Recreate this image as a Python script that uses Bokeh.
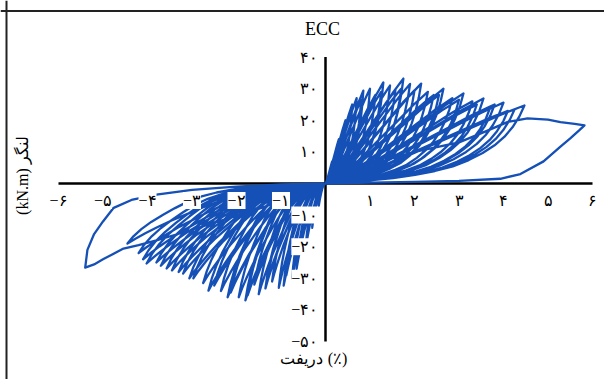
from bokeh.plotting import figure
from bokeh.models import Range1d, Label, LabelSet, ColumnDataSource, Span
from bokeh.core.properties import value
from bokeh.embed import file_html
from bokeh.resources import INLINE

# ---- tick data ----
X_TICKS = [-6, -5, -4, -3, -2, -1, 1, 2, 3, 4, 5, 6]
X_TICK_LABELS = ["−۶", "−۵", "−۴", "−۳", "−۲", "−۱", "۱", "۲", "۳", "۴", "۵", "۶"]
Y_TICKS = [40, 30, 20, 10, -10, -20, -30, -40, -50]
Y_TICK_LABELS = ["۴۰", "۳۰", "۲۰", "۱۰", "−۱۰", "−۲۰", "−۳۰", "−۴۰", "−۵۰"]

# ---- cycle peaks (drift %, moment kN.m) ----
POS_PEAK_DRIFT = [0.15, 0.3, 0.45, 0.6, 0.7, 0.85, 0.8, 1.0, 1.12, 1.3, 1.25, 1.45,
                  1.57, 1.75, 1.7, 1.9, 2.0, 2.15, 2.3, 2.43, 2.55, 2.65, 2.85, 3.0,
                  3.1, 3.3, 3.4, 3.55, 3.7, 3.8, 4.0, 4.1, 4.25, 4.47]
POS_PEAK_MOMENT = [7, 14, 20, 25, 27, 29.4, 26.5, 30, 28, 32, 29, 31,
                   29.5, 33.2, 30, 31.5, 29.5, 31.6, 29, 28, 28, 30, 27, 26.5,
                   28.5, 26, 25, 26.9, 24, 25, 25.6, 23, 23.5, 24.7]
NEG_PEAK_DRIFT = [-0.15, -0.3, -0.45, -0.65, -0.75, -0.94, -0.88, -1.05, -1.2, -1.35, -1.3, -1.5,
                  -1.6, -1.8, -1.75, -1.95, -2.13, -2.2, -2.35, -2.5, -2.75, -2.63, -2.97, -3.2,
                  -3.06, -3.3, -3.45, -3.57, -3.7, -3.8, -4.02, -4.1, -4.2, -4.45]
NEG_PEAK_MOMENT = [-7, -14, -21, -27, -30, -32.3, -29, -33, -31, -33.2, -30.5, -35,
                   -32, -37, -35.4, -36, -34.5, -36, -34, -32.3, -31.5, -33.9, -30, -28.5,
                   -30, -28, -27.5, -26.9, -26, -25, -25.3, -24, -22, -19]

# normalised leaf shapes of a half cycle (fraction of peak drift / peak moment)
POS_LOAD_U = [0.0, 0.08, 0.16, 0.24, 0.32, 0.4, 0.48, 0.56, 0.64, 0.72, 0.8, 0.87, 0.93, 0.97, 1.0]
POS_LOAD_V = [0.0, 0.04, 0.1, 0.17, 0.25, 0.34, 0.43, 0.52, 0.61, 0.7, 0.79, 0.87, 0.93, 0.97, 1.0]
POS_UNLOAD_U = [1.0, 0.975, 0.94, 0.9, 0.85, 0.79, 0.72, 0.64, 0.55, 0.45, 0.34, 0.22, 0.1, 0.0]
POS_UNLOAD_V = [1.0, 0.86, 0.72, 0.6, 0.49, 0.39, 0.3, 0.22, 0.16, 0.11, 0.07, 0.04, 0.015, 0.0]
NEG_LOAD_U = [0.0, 0.1, 0.2, 0.3, 0.38, 0.46, 0.54, 0.62, 0.7, 0.78, 0.85, 0.91, 0.96, 1.0]
NEG_LOAD_V = [0.0, 0.02, 0.05, 0.09, 0.14, 0.21, 0.3, 0.4, 0.51, 0.62, 0.73, 0.83, 0.92, 1.0]
NEG_UNLOAD_U = [1.0, 0.97, 0.93, 0.88, 0.82, 0.76, 0.7, 0.63, 0.55, 0.45, 0.33, 0.2, 0.08, 0.0]
NEG_UNLOAD_V = [1.0, 0.88, 0.76, 0.64, 0.52, 0.41, 0.31, 0.22, 0.15, 0.09, 0.05, 0.025, 0.01, 0.0]

# last (largest) loops
FINAL_POS_DRIFT = [0, 1.0, 2.0, 3.0, 3.6, 4.1, 4.54, 5.0, 5.28, 5.6, 5.82,
                   5.7, 5.5, 5.28, 4.9, 4.38, 3.93, 3.0, 2.0, 1.0, 0]
FINAL_POS_MOMENT = [0, 6, 10, 13, 16.5, 19.5, 20.6, 20.2, 19.4, 18.9, 18.4,
                    16.8, 14.3, 11.7, 7, 3, 1.5, 0.8, 0.5, 0.3, 0]
FINAL_NEG_DRIFT = [0, -1.0, -2.0, -3.0, -3.8, -4.36, -4.76, -5.0, -5.2, -5.35, -5.4,
                   -5.2, -5.0, -4.54, -4.2, -3.8, -3.2, -2.4, -1.6, -0.8, 0]
FINAL_NEG_MOMENT = [0, -0.3, -1.0, -2.0, -3.5, -5.2, -7.7, -12, -16, -21, -26.6,
                    -25.6, -24, -20.6, -19.5, -18, -15.5, -12, -8.5, -4.5, 0]


def half(us, vs, d, m, skip_first):
    start = 1 if skip_first else 0
    return [u * d for u in us[start:]], [v * m for v in vs[start:]]


# ---- build path ----
xs, ys = [], []
for dp, mp, dn, mn in zip(POS_PEAK_DRIFT, POS_PEAK_MOMENT, NEG_PEAK_DRIFT, NEG_PEAK_MOMENT):
    for us, vs, d, m, sk in ((POS_LOAD_U, POS_LOAD_V, dp, mp, bool(xs)),
                             (POS_UNLOAD_U, POS_UNLOAD_V, dp, mp, True),
                             (NEG_LOAD_U, NEG_LOAD_V, dn, mn, True),
                             (NEG_UNLOAD_U, NEG_UNLOAD_V, dn, mn, True)):
        hx, hy = half(us, vs, d, m, sk)
        xs += hx; ys += hy
xs += FINAL_POS_DRIFT + FINAL_NEG_DRIFT
ys += FINAL_POS_MOMENT + FINAL_NEG_MOMENT

W, H = 604, 379
PX_X, PX_Y = 44.5, 3.16
X0, Y0 = 325, 183
p = figure(width=W, height=H, output_backend="svg", toolbar_location=None,
           x_range=Range1d(-X0 / PX_X, (W - X0) / PX_X),
           y_range=Range1d(-(H - Y0) / PX_Y, Y0 / PX_Y),
           x_axis_type=None, y_axis_type=None, min_border=0)
p.grid.visible = False
p.outline_line_color = None
p.background_fill_color = "white"
p.border_fill_color = "white"

# page frame (left and top edge visible)
p.add_layout(Span(location=-X0 / PX_X + 6.0 / PX_X, dimension="height",
                  line_color="#222222", line_width=2))
p.add_layout(Span(location=Y0 / PX_Y - 10.5 / PX_Y, dimension="width",
                  line_color="#222222", line_width=2))

# axes lines
p.line([min(X_TICKS), max(X_TICKS)], [0, 0], line_color="black", line_width=2.5)
p.line([0, 0], [min(Y_TICKS), max(Y_TICKS)], line_color="black", line_width=2.5)

# hysteresis curve
p.line(xs, ys, line_color="#1450B6", line_width=2.3, line_join="round")

# tick labels
FONT = "Liberation Serif"
xsrc = ColumnDataSource(dict(x=X_TICKS, y=[-5.4] * len(X_TICKS), t=X_TICK_LABELS))
p.add_layout(LabelSet(x="x", y="y", text="t", source=xsrc, text_align="center",
                      text_baseline="middle", text_font=value(FONT),
                      text_font_size="16px", text_color="black",
                      background_fill_color="white", background_fill_alpha=1.0))
ysrc = ColumnDataSource(dict(x=[-0.16] * len(Y_TICKS), y=Y_TICKS, t=Y_TICK_LABELS))
p.add_layout(LabelSet(x="x", y="y", text="t", source=ysrc, text_align="right",
                      text_baseline="middle", text_font=value(FONT),
                      text_font_size="16px", text_color="black",
                      background_fill_color="white", background_fill_alpha=1.0))

# titles
p.add_layout(Label(x=-0.07, y=49, text="ECC", text_align="center", text_baseline="middle",
                   text_font=FONT, text_font_size="18px", text_color="black"))
p.add_layout(Label(x=-0.05, y=-55.4, text="دریفت", text_align="right",
                   text_baseline="middle", text_font=FONT, text_font_size="16px",
                   text_color="black"))
p.add_layout(Label(x=0.05, y=-55.4, text="(٪)", text_align="left",
                   text_baseline="middle", text_font=FONT, text_font_size="16px",
                   text_color="black"))
p.add_layout(Label(x=-6.81, y=2.5, text="(kN.m) لنگر", angle=1.5708, text_align="center",
                   text_baseline="middle", text_font=FONT, text_font_size="16px",
                   text_color="black"))

open("out.html", "w").write(file_html(p, INLINE))
